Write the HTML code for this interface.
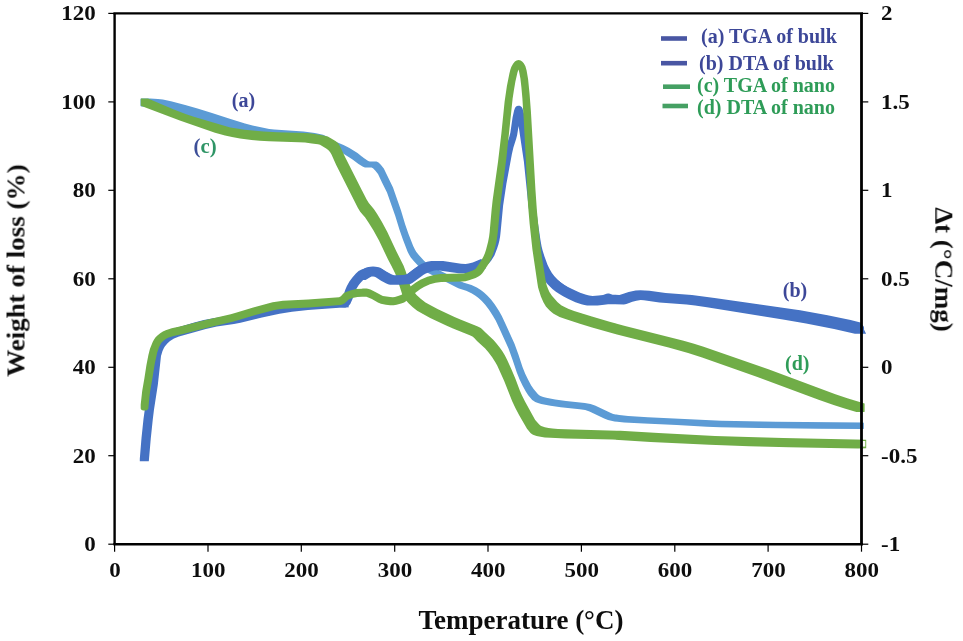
<!DOCTYPE html>
<html><head><meta charset="utf-8"><title>TGA / DTA</title>
<style>
html,body{margin:0;padding:0;background:#fff;}
body{width:963px;height:641px;overflow:hidden;font-family:"Liberation Serif",serif;}
svg{display:block;}
text{font-family:"Liberation Serif",serif;font-weight:bold;}
.tk{font-size:22px;fill:#111;}
.ax{font-size:26px;fill:#111;}
.lg{font-size:20px;}
.lb{font-size:20px;}
</style></head><body>
<svg width="963" height="641" viewBox="0 0 963 641">
<defs><filter id="soft" x="0" y="0" width="963" height="641" filterUnits="userSpaceOnUse"><feGaussianBlur stdDeviation="0.45"/></filter></defs>
<rect width="963" height="641" fill="#fff"/>
<g filter="url(#soft)">

<path d="M140.5 99.3L140.8 98.7L141.2 98.5L150.2 98.5L158.0 98.9L162.8 99.5L171.0 101.2L185.2 105.0L197.5 108.6L211.2 112.8L230.5 119.0L245.0 123.4L252.5 125.4L264.5 128.1L269.2 128.9L274.2 129.4L303.5 131.5L314.8 133.0L323.0 134.7L325.8 135.9L332.8 140.4L343.5 144.9L349.0 147.7L357.5 153.1L363.8 158.0L368.2 160.9L369.8 161.4L376.5 161.6L377.5 162.0L378.5 162.6L380.8 164.7L383.8 168.6L393.0 187.6L401.0 210.4L405.2 224.4L408.5 233.9L413.2 246.1L414.8 249.3L416.2 251.7L418.8 254.9L424.0 260.7L426.5 263.0L429.5 265.1L434.8 268.1L452.8 277.0L461.0 281.4L464.0 282.7L471.5 285.1L476.8 287.6L480.8 290.1L484.0 292.6L487.5 295.8L491.0 299.6L494.8 304.5L499.0 311.0L501.8 315.9L505.2 323.3L514.5 343.7L518.5 354.8L522.5 367.0L525.2 373.7L528.0 379.4L531.2 385.4L533.8 389.2L537.8 393.9L539.2 395.2L540.5 395.9L543.2 397.0L546.2 397.8L555.2 399.6L566.0 401.0L584.8 403.0L590.5 403.9L595.0 405.4L609.8 412.5L613.2 413.9L619.2 415.1L628.2 416.0L647.8 417.3L721.2 420.8L776.0 421.8L863.0 422.6L863.5 422.7L863.8 423.0L863.8 428.6L863.5 428.9L863.0 429.0L818.5 428.7L759.5 428.0L720.2 427.2L706.8 426.7L676.8 425.1L644.0 423.6L624.2 422.4L614.5 421.4L608.0 420.1L604.2 418.6L589.5 411.6L585.2 410.1L579.8 409.2L560.8 407.2L550.5 405.8L541.2 404.0L538.0 403.0L535.2 401.9L533.8 401.1L532.2 399.9L528.2 395.2L525.8 391.5L522.5 385.5L519.5 379.3L516.8 372.6L512.8 360.4L508.5 348.6L499.2 328.1L495.8 320.7L493.0 315.9L489.0 309.7L485.2 304.8L481.8 301.0L478.5 298.0L475.5 295.7L471.5 293.2L466.2 290.7L459.0 288.4L455.8 287.1L447.5 282.7L429.5 273.8L424.2 270.9L421.0 268.6L418.8 266.6L413.5 260.8L410.8 257.4L409.0 254.6L407.5 251.5L402.8 239.3L399.5 229.8L395.2 215.8L387.0 192.4L382.0 182.5L378.0 174.0L375.2 170.5L373.0 168.3L371.5 167.6L365.0 167.4L363.0 166.8L358.5 164.0L352.2 159.2L343.5 153.8L338.0 151.0L327.2 146.6L320.8 142.7L317.8 141.5L312.8 140.7L306.8 140.1L267.0 137.4L262.0 136.8L257.0 135.9L245.2 133.3L237.5 131.2L223.2 126.8L193.0 117.2L167.2 109.9L155.0 107.3L149.5 106.8L141.2 106.5L140.8 106.3L140.5 105.7Z" fill="#5B9BD5"/>
<path d="M140.8 98.6L141.2 98.4L148.0 98.4L173.2 109.2L186.2 114.2L193.8 116.7L220.0 124.6L230.2 127.4L236.8 128.6L244.5 129.7L263.5 131.6L277.0 132.3L304.8 133.1L309.2 133.3L313.2 133.7L321.0 135.0L327.8 136.5L334.2 140.2L336.5 141.8L338.5 143.8L340.2 146.8L344.8 156.4L366.5 199.3L368.8 202.9L373.8 209.0L377.0 213.8L381.8 221.7L387.2 231.8L396.2 251.1L403.5 265.5L405.5 270.7L410.2 285.5L411.5 288.2L413.5 291.3L416.8 295.2L421.0 299.1L425.5 302.4L431.0 305.6L438.0 309.3L454.5 317.0L461.0 319.8L477.8 326.6L480.8 328.1L482.2 329.2L485.5 332.6L493.5 340.0L496.5 343.4L499.5 347.2L502.2 351.1L504.8 355.2L507.2 360.1L511.5 369.5L515.5 379.1L519.8 390.5L522.0 395.5L525.0 401.6L535.2 419.9L538.8 424.1L540.0 425.3L541.2 426.1L544.8 427.2L548.5 428.0L552.5 428.6L558.0 429.0L573.2 429.6L620.5 430.8L658.5 433.1L715.0 435.9L748.2 437.1L783.2 438.1L866.2 439.7L866.2 448.3L858.0 448.4L844.0 448.2L789.0 447.3L749.2 446.2L709.5 444.8L650.5 441.9L612.5 439.6L565.5 438.4L550.5 437.8L544.8 437.4L540.5 436.8L536.5 435.9L533.0 434.8L531.8 434.0L530.5 432.9L527.0 428.8L519.2 415.3L515.5 408.2L512.2 401.3L504.2 380.9L497.2 365.5L495.2 361.9L492.0 356.9L488.8 352.7L485.2 348.6L477.0 340.9L474.0 337.8L472.5 336.6L469.8 335.2L453.0 328.4L446.2 325.5L430.2 317.9L423.0 314.1L417.2 310.7L412.8 307.3L408.8 303.6L405.2 299.4L403.2 296.4L402.0 293.7L397.0 278.0L395.2 273.6L393.0 268.9L387.8 258.9L379.0 240.6L373.5 230.6L368.5 222.4L365.0 217.3L360.2 211.7L357.8 207.8L336.2 165.1L331.5 154.5L330.0 152.0L328.2 150.1L326.2 148.6L320.0 144.8L318.0 144.3L311.8 143.4L305.0 142.6L298.8 142.2L269.0 141.3L259.8 140.8L251.5 139.9L240.0 138.4L232.0 137.1L225.0 135.6L215.0 132.7L179.8 120.6L140.8 105.8Z" fill="#70AD47"/>
<path d="M146.6 399.3L149.6 379.8L152.6 352.5L153.1 349.8L154.1 346.3L155.1 343.6L156.3 341.2L157.8 339.1L159.8 336.8L162.1 334.8L164.3 333.2L166.8 331.7L169.8 330.3L176.6 328.0L195.3 322.7L204.3 320.4L213.1 318.7L229.1 316.4L235.3 315.3L257.6 309.7L276.9 305.8L288.9 303.9L303.1 302.3L339.4 299.7L341.6 298.8L342.1 298.4L343.6 294.8L345.4 289.4L346.9 286.1L349.4 281.6L352.4 277.4L355.9 273.4L358.6 271.0L359.6 270.4L361.6 269.5L364.9 268.4L373.1 267.7L376.1 267.9L379.6 268.4L382.4 269.4L387.4 272.8L393.9 276.2L395.6 276.4L401.9 276.1L404.6 275.8L405.6 275.4L416.1 267.6L419.6 265.4L424.4 263.6L428.4 262.5L432.1 262.0L442.6 262.1L446.6 262.5L461.9 264.9L465.9 265.1L468.6 264.6L472.4 263.6L481.1 259.8L483.9 258.1L485.9 255.7L488.1 251.8L490.4 246.0L492.1 240.0L492.9 236.2L493.4 232.2L495.6 207.9L497.1 196.4L499.6 180.6L503.9 157.2L506.1 146.8L509.4 136.5L510.4 132.5L512.6 117.2L514.1 110.5L514.9 108.3L515.6 107.1L516.9 106.1L518.4 105.7L519.6 105.8L520.6 106.3L521.6 107.1L522.4 108.3L523.4 111.2L524.9 118.0L531.1 161.8L535.1 201.1L537.9 222.8L540.4 239.7L541.6 246.4L542.6 250.6L544.4 256.2L547.4 264.4L549.6 269.1L551.9 273.0L554.4 276.3L557.9 280.0L561.6 283.2L565.6 286.1L571.4 289.4L579.6 293.4L587.6 296.2L591.4 297.1L595.9 296.9L602.1 296.1L605.6 294.9L607.6 294.5L609.9 294.8L613.1 296.0L618.9 296.1L620.6 295.7L625.6 293.8L627.9 293.1L635.1 291.7L640.1 291.4L649.6 292.0L666.1 294.3L692.1 296.3L712.6 298.9L797.6 311.8L825.6 316.8L844.4 320.7L861.6 324.8L862.6 325.3L863.4 326.0L863.9 326.9L864.1 328.2L864.1 328.2L863.9 329.5L862.9 330.9L861.6 331.6L860.1 331.8L844.1 328.0L830.1 325.0L811.6 321.5L793.9 318.5L716.6 306.8L701.9 304.7L688.6 303.2L664.1 301.3L647.4 299.0L639.9 298.6L635.9 298.9L629.1 300.2L622.6 302.6L619.4 303.3L612.1 303.1L610.6 302.8L607.9 301.7L604.4 303.0L601.4 303.5L595.1 304.2L590.4 304.2L585.9 303.2L577.9 300.5L572.1 297.8L564.1 293.6L559.1 290.3L554.4 286.6L550.1 282.4L546.6 278.1L543.9 273.7L541.1 268.1L538.6 261.6L535.9 253.2L534.9 249.2L533.6 242.9L530.9 224.8L527.9 200.9L523.9 161.8L518.6 126.1L517.1 135.3L516.1 139.1L513.4 147.5L511.9 153.9L506.4 183.8L503.1 205.7L500.6 232.0L500.1 236.4L499.4 240.6L498.4 244.6L497.1 248.5L494.4 255.4L491.1 260.8L489.6 262.6L488.1 263.9L484.4 266.2L475.1 270.3L470.9 271.5L466.9 272.2L464.4 272.3L461.4 272.1L442.1 269.3L432.4 269.2L429.6 269.6L425.1 271.0L422.1 272.3L415.1 277.2L410.6 280.7L408.6 282.0L406.4 282.8L403.6 283.2L396.4 283.6L394.4 283.6L392.9 283.4L390.9 282.7L388.6 281.7L383.6 278.9L379.6 276.2L378.4 275.5L373.4 274.9L368.9 275.3L367.6 276.1L362.9 280.3L360.4 283.1L358.6 285.3L356.6 288.6L355.1 291.5L352.6 298.7L350.4 303.7L348.6 306.0L346.6 307.1L345.6 307.4L344.1 307.4L339.9 307.0L308.6 309.0L294.6 310.5L280.4 312.5L259.6 316.7L242.8 320.9L236.6 322.4L230.1 323.5L214.6 325.7L206.3 327.4L193.8 330.6L177.6 335.2L173.1 336.8L169.1 338.7L166.1 340.8L163.1 344.0L161.6 346.7L160.6 349.6L159.8 352.6L156.6 381.7L153.3 402.2L152.8 403.1L151.8 403.9L150.8 404.4L149.8 404.5L148.8 404.3L147.8 403.7L147.1 403.0L146.6 402.0Z" fill="#4472C4"/>
<path d="M139.8 458.7L141.5 438.1L143.5 419.1L144.8 409.4L148.5 384.9L151.8 356.0L152.8 352.3L153.8 349.6L159.3 338.6L161.5 335.7L164.8 332.8L168.5 330.6L173.3 328.7L194.3 322.6L203.8 320.1L213.3 318.2L229.5 315.8L235.8 314.7L241.8 313.4L259.8 308.8L275.3 305.6L286.3 303.8L296.8 302.5L306.5 301.5L335.0 299.6L340.8 298.9L344.3 298.1L344.5 298.2L349.0 307.2L349.0 307.2L345.5 307.6L339.0 307.8L308.0 309.9L292.0 311.8L279.5 313.8L262.0 317.5L240.5 322.8L234.0 324.0L216.8 326.5L205.8 328.9L179.0 336.4L174.0 338.6L170.0 341.1L167.3 343.5L165.0 346.2L164.0 347.7L162.5 351.0L161.0 356.1L157.8 385.0L154.0 409.5L152.8 419.2L150.8 438.2L148.8 461.3L139.8 461.3Z" fill="#4472C4"/>
<path d="M356.3 280.1L361.1 270.6L364.6 268.3L367.1 267.2L370.3 266.7L373.1 266.6L375.6 266.7L378.8 267.2L380.8 268.0L385.8 271.3L390.8 274.1L393.1 275.0L394.3 275.3L395.8 275.3L403.3 274.9L405.8 274.5L407.6 273.7L413.1 269.5L419.1 265.3L421.3 263.9L427.1 261.8L431.3 261.0L440.3 260.9L443.1 261.0L461.1 263.7L465.6 264.0L468.6 263.6L472.8 262.6L481.1 259.1L485.6 268.1L485.6 268.5L477.6 272.0L473.3 273.0L470.3 273.4L458.6 273.3L439.3 270.5L436.6 270.3L434.1 270.6L430.3 271.7L425.8 273.4L423.6 274.8L417.8 278.9L412.3 283.1L410.3 284.0L407.3 284.3L400.3 284.7L390.3 284.7L388.8 284.5L386.3 283.5L381.1 280.7L375.8 277.2L374.6 276.7L373.1 276.4L371.6 276.6L370.1 277.2L365.6 280.1L356.3 280.1Z" fill="#4472C4"/>
<path d="M536.9 263.6L541.4 254.6L541.6 254.5L546.1 263.5L548.4 269.5L550.1 272.1L552.1 274.5L554.6 277.2L557.1 279.5L560.6 282.3L564.1 284.7L567.9 286.9L573.1 289.6L580.1 292.8L586.1 294.8L589.1 295.6L592.6 296.0L598.6 295.5L603.1 294.9L606.4 293.7L607.9 293.4L609.1 293.6L612.6 294.8L619.4 294.9L621.9 294.3L628.6 291.9L635.6 290.5L640.4 290.2L649.4 290.8L665.6 293.1L691.9 295.1L714.6 297.9L800.1 310.2L827.6 315.2L850.6 320.1L860.4 322.5L866.1 333.8L866.1 333.8L854.9 333.8L834.1 329.0L806.1 323.6L782.9 319.6L706.9 307.3L695.1 305.6L686.6 304.6L659.4 302.5L643.9 300.3L640.6 300.0L636.4 300.8L632.4 301.7L626.4 303.9L623.9 304.4L608.1 304.3L602.1 305.1L597.6 305.4L587.1 305.4L584.4 305.1L581.4 304.3L575.4 302.2L568.4 299.0L563.1 296.3L559.4 294.1L555.9 291.7L552.4 288.9L549.9 286.5L547.4 283.9L545.4 281.5L543.6 278.9L539.9 271.7L536.9 263.8Z" fill="#4472C4"/>
<path d="M140.7 404.5L142.2 391.0L144.4 378.2L146.4 365.2L148.4 354.9L149.9 349.1L152.7 342.0L153.9 339.7L155.4 337.5L157.7 335.2L160.2 333.2L162.9 331.5L165.7 330.2L171.7 328.3L180.9 326.3L206.7 319.8L230.7 314.2L236.7 312.5L253.2 307.4L272.6 302.3L277.9 301.4L282.9 300.8L308.1 299.6L339.1 297.3L340.9 296.2L343.6 293.3L346.1 291.9L350.1 290.4L356.1 289.1L363.4 288.6L366.4 288.6L367.9 288.8L370.4 289.6L374.9 291.7L380.9 295.1L382.9 296.0L390.1 297.1L392.9 297.2L394.9 297.0L398.1 296.1L401.6 294.7L403.6 293.0L409.1 287.6L415.9 282.4L420.4 279.7L427.4 276.7L433.9 275.0L440.4 273.9L463.6 273.4L466.4 272.7L472.1 270.7L474.1 269.8L475.4 269.1L476.9 267.1L481.9 259.5L483.6 256.3L484.9 253.3L486.1 249.6L488.1 241.7L489.1 236.4L489.6 232.4L491.6 209.8L492.6 200.6L498.1 161.3L501.4 133.3L504.6 101.8L506.9 85.9L509.4 73.5L510.4 69.5L511.4 66.7L513.1 63.7L514.9 61.5L516.6 60.4L518.6 60.0L520.6 60.4L522.4 61.7L523.9 63.6L525.4 66.3L526.6 70.4L528.1 79.2L529.6 94.2L530.9 111.3L535.4 189.1L536.9 210.8L538.9 231.8L540.6 247.6L542.1 258.3L545.4 279.0L546.6 285.1L547.9 288.6L549.4 291.9L551.9 295.7L557.4 302.0L559.4 303.8L561.6 305.4L564.6 307.1L568.1 308.8L574.1 311.0L591.9 316.6L609.6 321.8L624.1 325.7L683.6 340.8L694.1 343.7L703.6 346.7L768.4 369.3L835.4 394.2L848.1 398.5L864.6 403.4L864.6 411.8L864.1 412.0L856.4 411.9L844.6 408.5L833.6 405.1L818.6 399.8L757.4 376.9L702.1 357.6L688.1 353.0L668.6 347.5L628.9 337.5L611.6 333.0L592.1 327.5L579.9 323.8L565.4 319.1L559.6 316.9L553.6 313.8L551.4 312.1L549.4 310.3L545.9 306.4L543.4 302.2L540.9 296.5L538.9 290.3L538.1 287.4L537.4 283.2L532.4 249.3L529.6 223.6L528.1 205.7L523.9 122.3L522.4 98.4L521.4 87.2L520.4 78.6L519.1 71.7L518.6 69.8L518.4 69.7L517.4 72.8L515.4 81.6L513.9 90.2L512.6 98.8L506.4 157.9L500.4 204.8L497.9 231.6L496.9 239.2L495.6 245.2L494.4 250.1L492.9 254.8L491.1 259.1L489.1 263.0L483.6 271.4L482.1 273.5L480.6 275.1L478.4 276.6L475.6 277.9L468.9 280.3L465.4 281.2L461.9 281.5L441.1 281.9L435.6 282.8L429.9 284.3L423.9 286.9L420.1 289.2L414.4 293.6L408.6 299.3L405.6 301.6L404.1 302.4L401.1 303.5L396.6 304.8L393.6 305.2L390.1 305.2L385.9 304.7L380.9 303.7L377.9 302.6L371.9 299.1L366.4 296.7L362.1 296.7L357.4 297.0L352.4 298.0L349.4 299.2L348.4 299.8L346.1 302.1L344.4 303.4L342.4 304.6L340.6 305.1L308.9 307.5L283.6 308.7L279.1 309.2L274.4 310.0L255.4 315.0L238.9 320.1L232.7 321.8L208.4 327.5L182.9 334.0L173.7 336.0L168.7 337.5L166.7 338.4L164.7 339.7L162.9 341.2L161.2 343.0L159.2 346.8L157.2 352.4L154.7 363.9L152.2 379.7L150.2 390.9L149.4 397.1L148.4 408.1L148.2 408.9L147.4 409.8L146.4 410.4L143.4 410.5L142.4 410.3L141.7 409.9L141.2 409.4L140.7 408.4Z" fill="#70AD47"/>
<rect x="860.3" y="441" width="5" height="5.6" fill="#fff"/>
<g stroke="#000" fill="none">
<path d="M113.4 13.4 H863.0" stroke-width="2.4"/>
<path d="M113.4 544.2 H863.0" stroke-width="2.4"/>
<path d="M114.6 13.4 V544.2" stroke-width="2.4"/>
<path d="M861.5 13.4 V544.2" stroke-width="2.8"/>
<path d="M108.3 544.2 H114.6" stroke-width="1.2"/>
<path d="M108.3 455.7 H114.6" stroke-width="1.2"/>
<path d="M108.3 367.3 H114.6" stroke-width="1.2"/>
<path d="M108.3 278.8 H114.6" stroke-width="1.2"/>
<path d="M108.3 190.3 H114.6" stroke-width="1.2"/>
<path d="M108.3 101.9 H114.6" stroke-width="1.2"/>
<path d="M108.3 13.4 H114.6" stroke-width="1.2"/>
<path d="M861.5 544.2 H868.3" stroke-width="1.2"/>
<path d="M861.5 455.7 H868.3" stroke-width="1.2"/>
<path d="M861.5 367.3 H868.3" stroke-width="1.2"/>
<path d="M861.5 278.8 H868.3" stroke-width="1.2"/>
<path d="M861.5 190.3 H868.3" stroke-width="1.2"/>
<path d="M861.5 101.9 H868.3" stroke-width="1.2"/>
<path d="M861.5 13.4 H868.3" stroke-width="1.2"/>
<path d="M114.6 544.2 V551.7" stroke-width="1.2"/>
<path d="M208.0 544.2 V551.7" stroke-width="1.2"/>
<path d="M301.3 544.2 V551.7" stroke-width="1.2"/>
<path d="M394.7 544.2 V551.7" stroke-width="1.2"/>
<path d="M488.0 544.2 V551.7" stroke-width="1.2"/>
<path d="M581.4 544.2 V551.7" stroke-width="1.2"/>
<path d="M674.8 544.2 V551.7" stroke-width="1.2"/>
<path d="M768.1 544.2 V551.7" stroke-width="1.2"/>
<path d="M861.5 544.2 V551.7" stroke-width="1.2"/>
</g>
<text class="tk" transform="translate(95.8,551.0) scale(1.045,1)" text-anchor="end">0</text>
<text class="tk" transform="translate(95.8,462.5) scale(1.045,1)" text-anchor="end">20</text>
<text class="tk" transform="translate(95.8,374.1) scale(1.045,1)" text-anchor="end">40</text>
<text class="tk" transform="translate(95.8,285.6) scale(1.045,1)" text-anchor="end">60</text>
<text class="tk" transform="translate(95.8,197.1) scale(1.045,1)" text-anchor="end">80</text>
<text class="tk" transform="translate(95.8,108.7) scale(1.045,1)" text-anchor="end">100</text>
<text class="tk" transform="translate(95.8,20.2) scale(1.045,1)" text-anchor="end">120</text>
<text class="tk" transform="translate(881.0,551.0) scale(1.045,1)" text-anchor="start">-1</text>
<text class="tk" transform="translate(881.0,462.5) scale(1.045,1)" text-anchor="start">-0.5</text>
<text class="tk" transform="translate(881.0,374.1) scale(1.045,1)" text-anchor="start">0</text>
<text class="tk" transform="translate(881.0,285.6) scale(1.045,1)" text-anchor="start">0.5</text>
<text class="tk" transform="translate(881.0,197.1) scale(1.045,1)" text-anchor="start">1</text>
<text class="tk" transform="translate(881.0,108.7) scale(1.045,1)" text-anchor="start">1.5</text>
<text class="tk" transform="translate(881.0,20.2) scale(1.045,1)" text-anchor="start">2</text>
<text class="tk" transform="translate(114.9,577.2) scale(1.045,1)" text-anchor="middle">0</text>
<text class="tk" transform="translate(208.3,577.2) scale(1.045,1)" text-anchor="middle">100</text>
<text class="tk" transform="translate(301.6,577.2) scale(1.045,1)" text-anchor="middle">200</text>
<text class="tk" transform="translate(395.0,577.2) scale(1.045,1)" text-anchor="middle">300</text>
<text class="tk" transform="translate(488.3,577.2) scale(1.045,1)" text-anchor="middle">400</text>
<text class="tk" transform="translate(581.7,577.2) scale(1.045,1)" text-anchor="middle">500</text>
<text class="tk" transform="translate(675.1,577.2) scale(1.045,1)" text-anchor="middle">600</text>
<text class="tk" transform="translate(768.4,577.2) scale(1.045,1)" text-anchor="middle">700</text>
<text class="tk" transform="translate(861.8,577.2) scale(1.045,1)" text-anchor="middle">800</text>
<text class="ax" transform="translate(520.9,629.2) scale(1.0,1)" text-anchor="middle" style="font-size:27px">Temperature (°C)</text>
<text class="ax" transform="translate(24.5,270.6) rotate(-90) scale(1.04,1)" text-anchor="middle">Weight of loss (%)</text>
<text class="ax" transform="translate(935.3,269.5) rotate(90) scale(1.04,1)" text-anchor="middle">Δt (°C/mg)</text>
<g stroke-width="4.6">
<path d="M661 38.5H687" stroke="#4A57A3"/>
<path d="M661 63.2H687" stroke="#4A57A3"/>
<path d="M663 86.7H690" stroke="#45A063"/>
<path d="M662.5 106H688" stroke="#45A063"/>
</g>
<text class="lg" x="701" y="43" fill="#3C4798">(a) TGA of bulk</text>
<text class="lg" x="699" y="69.7" fill="#3C4798">(b) DTA of bulk</text>
<text class="lg" x="697" y="92.2" fill="#2F9C58">(c) TGA of nano</text>
<text class="lg" x="697" y="113.8" fill="#2F9C58">(d) DTA of nano</text>
<text class="lb" transform="translate(231.8,107.4) scale(1.0,1)" fill="#3C4798">(a)</text>
<text class="lb" transform="translate(193.5,153.2) scale(1.04,1)" fill="#2F9566"><tspan fill="#3C4F98">(</tspan>c)</text>
<text class="lb" transform="translate(782.8,296.6) scale(1.0,1)" fill="#3C4798">(b)</text>
<text class="lb" transform="translate(785,370.2) scale(1.0,1)" fill="#2F9C58">(d)</text>
</g></svg></body></html>
